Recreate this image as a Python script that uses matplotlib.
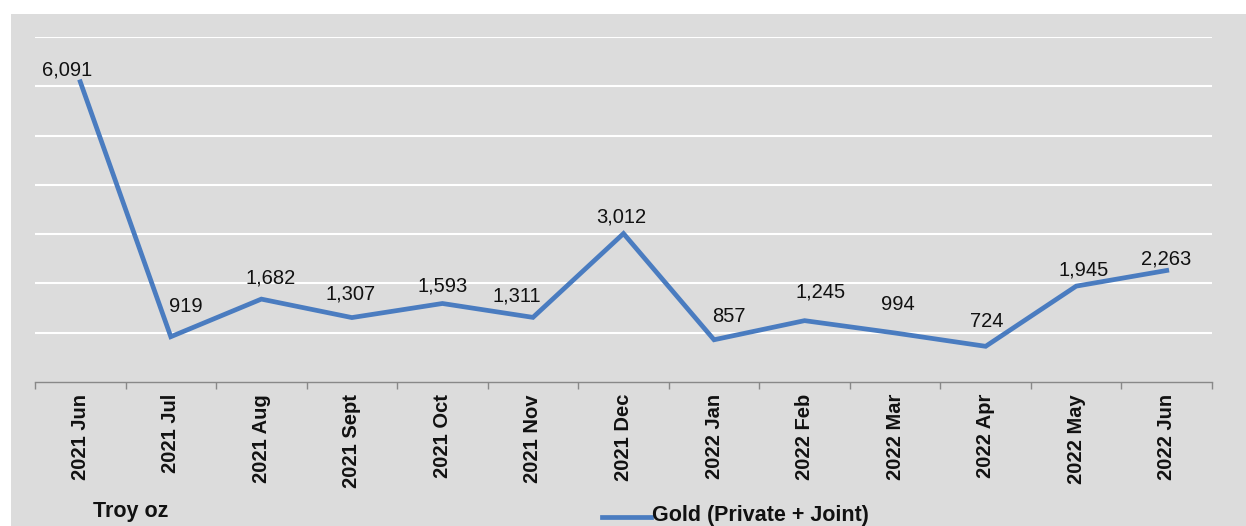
import matplotlib.pyplot as plt
from matplotlib.patches import Rectangle
from matplotlib.lines import Line2D

plt.rcParams['font.family'] = ['Liberation Sans', 'DejaVu Sans']

months = ['2021 Jun', '2021 Jul', '2021 Aug', '2021 Sept', '2021 Oct', '2021 Nov',
          '2021 Dec', '2022 Jan', '2022 Feb', '2022 Mar', '2022 Apr', '2022 May',
          '2022 Jun']
gold = [6091, 919, 1682, 1307, 1593, 1311, 3012, 857, 1245, 994, 724, 1945, 2263]

# label offsets in pixels (dx, dy) from each point to the label centre
label_offsets = [(-13, 12), (15, 30), (9, 21), (-1, 24), (0, 17), (-16, 21), (-2, 17),
                 (15, 23), (16, 29), (3, 29), (1, 25), (7, 16), (-1, 11)]

bg = '#dcdcdc'
line_col = '#4a7cc0'

fig = plt.figure(figsize=(12.46, 5.26), dpi=100, facecolor='white')
fig.patches.append(Rectangle((11 / 1246, 0), 1 - 11 / 1246, 1 - 14 / 526,
                             transform=fig.transFigure, facecolor=bg,
                             edgecolor='none', zorder=-5))

ax = fig.add_axes([35 / 1246, 1 - 382 / 526, (1212 - 35) / 1246, (382 - 37) / 526])
ax.set_facecolor(bg)

x = list(range(len(months)))
ax.plot(x, gold, color=line_col, linewidth=3.4, solid_joinstyle='miter', zorder=3)

for xi, v, (dx, dy) in zip(x, gold, label_offsets):
    ax.annotate(f'{v:,}', (xi, v), xytext=(dx, dy), textcoords='offset pixels',
                ha='center', va='center', fontsize=14.5, color='#111111')

ax.set_xlim(-0.5, len(months) - 0.5)
ax.set_ylim(0, 7000)
ax.set_yticks(range(1000, 8000, 1000))
ax.yaxis.grid(True, color='white', linewidth=1.5)
ax.tick_params(axis='y', left=False, labelleft=False)

# category ticks sit between months, labels centred under each month
ax.set_xticks([i - 0.5 for i in range(len(months) + 1)])
ax.set_xticklabels([])
ax.tick_params(axis='x', direction='out', length=5, color='#888888', width=1)
for xi, m in zip(x, months):
    ax.text(xi, -0.035, m, transform=ax.get_xaxis_transform(), rotation=90,
            ha='center', va='top', fontsize=14.5, fontweight='bold', color='#111111')

for side in ['top', 'right', 'left']:
    ax.spines[side].set_visible(False)
ax.spines['bottom'].set_color('#888888')
ax.spines['bottom'].set_linewidth(1)

fig.text(93 / 1246, 1 - 511 / 526, 'Troy oz', fontsize=15.5, fontweight='bold',
         va='center', ha='left', color='#111111')
fig.add_artist(Line2D([602 / 1246, 651 / 1246], [1 - 517 / 526, 1 - 517 / 526],
                      transform=fig.transFigure, color=line_col, linewidth=3.4))
fig.text(652 / 1246, 1 - 515 / 526, 'Gold (Private + Joint)', fontsize=15.5,
         fontweight='bold', va='center', ha='left', color='#111111')

fig.savefig('out.png', dpi=100, facecolor='white')
